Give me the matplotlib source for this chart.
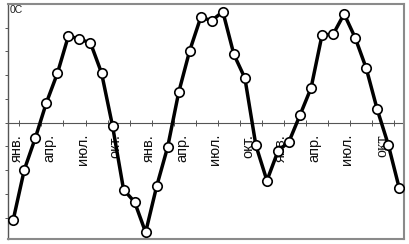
import matplotlib
matplotlib.use("Agg")
import matplotlib.pyplot as plt

# Monthly mean temperature, °C (36 consecutive months)
temps = [-20.4, -9.9, -3.2, 4.2, 10.4, 18.3, 17.6, 16.8, 10.5, -0.7, -14.1, -16.7,
         -23.1, -13.4, -5.1, 6.4, 15.2, 22.2, 21.5, 23.4, 14.4, 9.4, -4.8, -12.2,
         -6.0, -4.0, 1.6, 7.3, 18.5, 18.6, 22.9, 17.9, 11.5, 2.8, -4.6, -13.8]
months = list(range(len(temps)))
month_labels = ["янв.", "апр.", "июл.", "окт.", "янв.", "апр.", "июл.", "окт.",
                "янв.", "апр.", "июл.", "окт"]
label_pos = [0.3, 3.3, 6.3, 9.3, 12.3, 15.3, 18.3, 21.3, 24.3, 27.3, 30.3, 33.3]
x_ticks = [0.55, 2.55, 4.55, 6.55, 8.55, 10.55, 12.55, 14.55, 16.55, 18.55,
           20.55, 22.55, 24.55, 26.55, 28.55, 30.55, 32.55, 34.55]
y_ticks = [-20, -15, -10, -5, 0, 5, 10, 15, 20]
unit_label = "0C"

fig = plt.figure(figsize=(4.09, 2.44), dpi=100)
ax = fig.add_axes([8 / 409, 5 / 244, 396 / 409, 235 / 244])
ax.set_xlim(-0.48, 35.43)
ax.set_ylim(-24.5, 25.0)

for side in ["top", "right", "bottom"]:
    ax.spines[side].set_color("#8a8a8a")
    ax.spines[side].set_linewidth(1.5)
ax.spines["left"].set_color("#555555")
ax.spines["left"].set_linewidth(1.0)

ax.set_yticks(y_ticks)
ax.set_yticklabels([])
ax.tick_params(axis="y", direction="out", length=2.5, width=0.7, color="#555555")
ax.set_xticks([])

# horizontal zero axis with ticks
ax.axhline(0, color="#555555", lw=0.8, zorder=1)
ax.plot(x_ticks, [0] * len(x_ticks), linestyle="none", marker="|",
        markersize=4, markeredgewidth=0.7, color="#555555", zorder=1)

for i, (pos, lab) in enumerate(zip(label_pos, month_labels)):
    last = i == len(month_labels) - 1
    fam = "Liberation Serif" if last else "Liberation Sans"
    ax.text(pos + (0.2 if last else 0), -2.4, lab, rotation=90, ha="center", va="top",
            fontsize=11.5 if last else 10.5, family=fam, color="#111111", zorder=2)

ax.plot(months, temps, color="black", lw=2.5, marker="o", markersize=6.8,
        markerfacecolor="white", markeredgecolor="black", markeredgewidth=1.2,
        zorder=3)

ax.text(0.003, 0.997, unit_label, transform=ax.transAxes, ha="left", va="top",
        fontsize=7.5, family="Liberation Sans", color="#222222")

fig.savefig("out.png", dpi=100)
